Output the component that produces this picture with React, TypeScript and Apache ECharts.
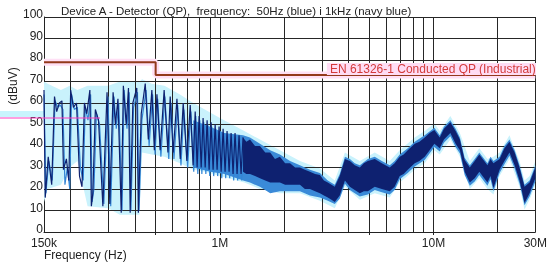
import React, { useEffect, useRef } from 'react';
import * as echarts from 'echarts';

// Frequencies in kHz, levels in dBuV
const xGridKHz = [200, 300, 400, 500, 600, 700, 800, 900, 1000, 2000, 3000, 4000, 5000, 6000, 7000, 8000, 9000, 10000, 20000, 30000];
const yGridDb = [10, 20, 30, 40, 50, 60, 70, 80, 90, 100];
const xTickKHz = [500, 1000, 5000, 10000];

const limitLine = [[150, 79], [500, 79], [500, 73], [30000, 73]];

// 1 kHz (navy) - low frequency harmonics [kHz, dB]
const navyLF = [
  [150, 66], [152, 16], [157, 35], [163, 22], [168, 63], [172, 56], [177, 60], [182, 61], [185, 29], [191, 34],
  [196, 24], [200, 66], [206, 58], [213, 60], [220, 26], [226, 21], [232, 60], [238, 55], [246, 66], [250, 12],
  [254, 18], [261, 57], [270, 52], [283, 12], [296, 65], [305, 13], [316, 65], [324, 50], [333, 62], [345, 9],
  [353, 68], [364, 50], [373, 67], [380, 9], [391, 60], [408, 67], [415, 9], [428, 55], [447, 69], [462, 43],
  [480, 66], [493, 38], [507, 64], [525, 38], [548, 66], [571, 37], [585, 63], [604, 37], [629, 62], [652, 34],
  [673, 60], [700, 33], [726, 59], [749, 31], [766, 56], [782, 30], [799, 54], [817, 30], [834, 53], [853, 30],
  [871, 52], [890, 29], [909, 51], [929, 29], [950, 50], [970, 29], [991, 49], [1013, 28], [1035, 48], [1057, 28],
  [1080, 47], [1104, 28], [1128, 46], [1152, 27], [1177, 46], [1203, 27], [1229, 45], [1256, 27], [1283, 44],
];

// 50 Hz (blue) - low frequency harmonics [kHz, dB]
const blueLF = [
  [150, 64], [153, 18], [158, 33], [164, 24], [169, 61], [174, 58], [179, 59], [184, 57], [188, 22], [193, 30],
  [198, 20], [202, 64], [208, 57], [215, 58], [222, 30], [229, 24], [234, 58], [241, 52], [248, 64], [252, 14],
  [257, 20], [264, 55], [273, 50], [286, 13], [299, 63], [308, 12], [319, 63], [327, 48], [336, 60], [348, 10],
  [356, 66], [367, 48], [376, 65], [383, 10], [394, 58], [411, 65], [418, 10], [431, 52], [451, 66], [466, 40],
  [484, 64], [497, 36], [511, 62], [529, 35], [552, 63], [576, 34], [590, 60], [609, 34], [634, 59], [657, 31],
  [678, 57], [706, 30], [731, 56], [754, 28], [771, 54], [788, 27], [805, 52], [823, 27], [840, 51], [859, 27],
  [877, 50], [896, 26], [915, 49], [935, 26], [956, 48], [976, 26], [997, 47], [1020, 25], [1042, 46], [1064, 25],
  [1087, 45], [1111, 25], [1135, 44], [1160, 24], [1185, 44], [1211, 24], [1237, 43], [1264, 24], [1290, 43],
];

// 1 kHz (navy) - high frequency noisy band [kHz, low dB, high dB]
const navyBand = [
  [1283, 28, 44], [1330, 27, 42], [1383, 27, 43], [1460, 26, 40], [1540, 25, 40], [1630, 24, 37], [1720, 23, 37],
  [1810, 23, 34], [1910, 23, 35], [2020, 22, 32], [2130, 22, 32], [2250, 22, 30], [2370, 22, 30], [2500, 20, 29],
  [2640, 20, 28], [2790, 19, 27], [2940, 18, 26.5], [3070, 17, 24], [3200, 16, 23], [3330, 15, 22], [3450, 14, 21],
  [3640, 17, 26], [3850, 24, 34], [4060, 21, 33], [4280, 19.5, 31], [4520, 18, 30], [4720, 19, 32], [4930, 19, 33],
  [5310, 21, 34], [5730, 20, 32], [6240, 19, 30], [6580, 21, 32], [6950, 26, 35], [7250, 27, 36], [7580, 29, 38],
  [8170, 32, 41], [8600, 33, 42], [9100, 35, 44], [9600, 38, 46], [10100, 41, 47.5], [10700, 39, 44], [11200, 43, 48],
  [12000, 46, 51], [12700, 41, 47], [13300, 38, 43], [14000, 28, 33.5], [14800, 23, 30], [15600, 25, 33], [16400, 28, 36],
  [17900, 23, 31], [18500, 26, 34], [19100, 20.5, 32], [20400, 29, 34], [21500, 33, 39], [22700, 37, 42], [24000, 31, 37],
  [25300, 24, 30], [26700, 13.5, 21], [28200, 18, 23], [30000, 25, 30],
];

// 50 Hz (blue) - high frequency band [kHz, low dB, high dB]
const blueBand = [
  [750, 30, 52], [900, 28, 49], [1050, 27, 46], [1283, 24, 45], [1383, 23, 44], [1540, 21, 41], [1720, 18, 38],
  [1910, 19, 36], [2130, 19, 33], [2370, 19, 31], [2640, 17, 29], [2940, 16, 27.5], [3200, 14.5, 24], [3450, 13, 22],
  [3640, 15.5, 27], [3850, 22.5, 35], [4060, 19.5, 34], [4280, 18, 32], [4520, 16.5, 31], [4930, 17.5, 34], [5310, 19.5, 35],
  [5730, 18.5, 33], [6240, 17.5, 31], [6580, 19.5, 33], [6950, 24.5, 36], [7580, 27.5, 39], [8170, 30.5, 42], [9100, 33.5, 45],
  [10100, 39.5, 48.5], [10700, 37.5, 45], [11200, 41.5, 49], [12000, 44.5, 52], [12700, 39.5, 48], [13300, 36.5, 44],
  [14000, 26.5, 34.5], [14800, 21.5, 31], [15600, 23.5, 34], [16400, 26.5, 37], [17900, 21.5, 32], [18500, 24.5, 35],
  [19100, 19, 33], [20400, 27.5, 35], [21500, 31.5, 40], [22700, 35.5, 43], [24000, 29.5, 38], [25300, 22.5, 31],
  [26700, 12.5, 22], [28200, 16.5, 24], [30000, 23.5, 31],
];

// light cyan halo / envelope [kHz, low dB, high dB]
const cyanBand = [
  [150, 14, 70], [156, 20, 69], [180, 22, 66], [198, 30, 68], [215, 33, 66], [240, 12, 68], [300, 11, 68],
  [340, 8, 70], [420, 8, 70], [432, 37, 71], [480, 36, 69], [550, 35, 68], [650, 32, 64], [750, 29, 60],
  [850, 28, 57], [1000, 26, 53], [1300, 23, 47], [1540, 20, 43], [1910, 18, 38], [2370, 18, 33], [2940, 14.5, 29.5],
  [3450, 11, 24], [3850, 21, 37], [4520, 15, 33], [5310, 18, 37], [6240, 16, 33], [6950, 23, 38], [8170, 29, 44],
  [9100, 32, 47], [10100, 38, 50.5], [10700, 36, 47], [12000, 43, 54], [13300, 35, 46], [14800, 20, 33],
  [16400, 25, 39], [17900, 20, 34], [19100, 17.5, 35], [20400, 26, 37], [22700, 34, 45], [25300, 21, 33],
  [26700, 10.5, 24], [28200, 15, 26], [30000, 22, 33],
];

const TITLE = 'Device A - Detector (QP),  frequency:  50Hz (blue) i 1kHz (navy blue)';
const LIMIT_LABEL = 'EN 61326-1 Conducted QP (Industrial)';
const FONT = '"Liberation Sans", Arial, Helvetica, sans-serif';

const hz = (k: number) => k * 1000;

export default function App() {
  const ref = useRef<HTMLDivElement>(null);
  useEffect(() => {
    const chart = echarts.init(ref.current!, null, { renderer: 'svg' });

    const band = (arr: number[][], color: string, z: number) => ({
      type: 'custom',
      z,
      silent: true,
      clip: true,
      data: [[hz(arr[0][0]), arr[0][1]]],
      renderItem: (_p: any, api: any) => {
        const top = arr.map((p) => api.coord([hz(p[0]), p[2]]));
        const bot = arr.slice().reverse().map((p) => api.coord([hz(p[0]), p[1]]));
        return { type: 'polygon', shape: { points: top.concat(bot) }, style: { fill: color } };
      },
    });

    const zig = (arr: number[][], color: string, z: number, w: number) => ({
      type: 'line',
      z,
      silent: true,
      symbol: 'none',
      data: arr.map((p) => [hz(p[0]), p[1]]),
      lineStyle: { color, width: w },
    });

    const fmt = (v: number) => {
      const r = Math.round(v);
      if (r >= 1e6) return Math.round(r / 1e6) + 'M';
      return Math.round(r / 1e3) + 'k';
    };

    chart.setOption({
      animation: false,
      grid: { left: 44, right: 13, top: 17, bottom: 35 },
      xAxis: {
        type: 'log',
        logBase: 10,
        min: 150000,
        max: 30000000,
        axisLine: { show: true, lineStyle: { color: '#222', width: 1 } },
        axisTick: { show: true, customValues: xTickKHz.map(hz), length: 3, lineStyle: { color: '#222' } },
        splitLine: { show: false },
        minorTick: { show: false },
        axisLabel: { formatter: fmt, fontSize: 12, lineHeight: 12, color: '#222', margin: 5, fontFamily: FONT },
      },
      yAxis: {
        type: 'value',
        min: 0,
        max: 100,
        interval: 10,
        axisLine: { show: true, lineStyle: { color: '#222', width: 1 } },
        axisTick: { show: false },
        splitLine: { show: false },
        axisLabel: {
          fontSize: 12, color: '#222', margin: 1, fontFamily: FONT,
          lineHeight: 6, verticalAlign: 'bottom',
        },
      },
      series: [
        band(cyanBand, '#c9f2fc', 1),
        {
          type: 'line',
          z: 2,
          silent: true,
          symbol: 'none',
          data: [[150000, 0]],
          lineStyle: { opacity: 0 },
          markLine: {
            silent: true,
            z: 2,
            symbol: ['none', 'none'],
            label: { show: false },
            lineStyle: { color: '#262626', width: 1, type: 'solid' },
            data: [
              ...xGridKHz.map((k) => ({ xAxis: hz(k) })),
              ...yGridDb.map((v) => ({ yAxis: v })),
            ],
          },
        },
        band(blueBand, '#3a8ad8', 3),
        zig(blueLF, '#3386d6', 3, 1.2),
        band(navyBand, '#0e2170', 4),
        zig(navyLF, '#0e2170', 4, 1.2),
        {
          type: 'line', z: 5, silent: true, symbol: 'none',
          data: limitLine.map((p) => [hz(p[0]), p[1]]),
          lineStyle: { color: '#ffe0f5', width: 7 },
        },
        {
          type: 'line', z: 6, silent: true, symbol: 'none',
          data: limitLine.map((p) => [hz(p[0]), p[1]]),
          lineStyle: { color: '#93391b', width: 2 },
        },
      ],
      graphic: [
        { type: 'rect', z: 0, shape: { x: 0, y: 111, width: 44, height: 6 }, style: { fill: '#c9f4fd' } },
        { type: 'line', z: 10, shape: { x1: 0, y1: 118, x2: 100, y2: 118 }, style: { stroke: '#ff3fbf', lineWidth: 1 } },
        {
          type: 'text', z: 10, left: 61, top: 5,
          style: { text: TITLE, font: `11.5px ${FONT}`, fill: '#222' },
        },
        {
          type: 'text', z: 10, x: 13, y: 86, rotation: Math.PI / 2,
          style: { text: '(dBuV)', font: `12px ${FONT}`, fill: '#222', align: 'center', verticalAlign: 'middle' },
        },
        {
          type: 'text', z: 10, left: 44, top: 249,
          style: { text: 'Frequency (Hz)', font: `12px ${FONT}`, fill: '#222', lineHeight: 12 },
        },
        {
          type: 'text', z: 10, right: 14, top: 63,
          style: {
            text: LIMIT_LABEL, font: `12px ${FONT}`, fill: '#d33b3b',
            backgroundColor: '#ffdcf4', padding: [0, 0, 0, 3],
          },
        },
      ],
    });
    return () => chart.dispose();
  }, []);
  return <div ref={ref} style={{ position: 'fixed', left: 0, top: 0, width: 550, height: 267 }} />;
}
